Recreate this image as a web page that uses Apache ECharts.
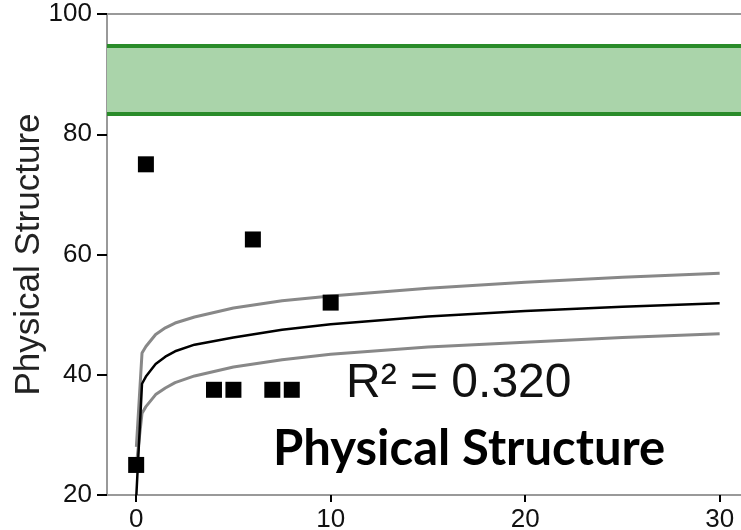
<!DOCTYPE html>
<html>
<head>
<meta charset="utf-8">
<script src="https://cdn.jsdelivr.net/npm/echarts@6/dist/echarts.min.js"></script>
<style>
  html, body { margin: 0; padding: 0; background: #fff; }
  #chart { width: 741px; height: 530px; }
</style>
</head>
<body>
<div id="chart"></div>
<script>
// observed points
const pointX = [0, 0.5, 4, 5, 6, 7, 8, 10];
const pointY = [25, 75, 37.5, 37.5, 62.5, 37.5, 37.5, 52];

// fitted curve + band
const curveX = [0.01, 0.3, 0.5, 1, 1.5, 2, 3, 5, 7.5, 10, 15, 20, 25, 30];
const fitY   = [20, 38.5, 39.7, 41.8, 43.0, 43.9, 45.0, 46.2, 47.5, 48.4, 49.7, 50.6, 51.3, 51.9];
const upperY = [28, 43.6, 44.7, 46.7, 47.8, 48.6, 49.6, 51.1, 52.3, 53.1, 54.4, 55.4, 56.2, 56.9];
const lowerY = [25, 33.6, 34.7, 36.7, 37.8, 38.7, 39.8, 41.3, 42.5, 43.4, 44.6, 45.4, 46.2, 46.8];

// green reference band
const bandLow = 83.4;
const bandHigh = 94.8;

const xTicks = [0, 10, 20, 30];

const rSquared = "R² = 0.320";
const chartTitle = "Physical Structure";

function pairs(xs, ys) {
  return xs.map((x, i) => [x, ys[i]]);
}

let myChart = echarts.init(document.getElementById("chart"));

let option = {
  animation: false,
  grid: {
    left: 107, top: 14, right: -2, bottom: 35,
    outerBoundsMode: "none",
    containLabel: false,
    show: true,
    borderColor: "#999",
    borderWidth: 2
  },
  xAxis: {
    type: "value",
    min: -1.5,
    max: 31.2,
    splitLine: { show: false },
    axisLine: { show: true, onZero: false, lineStyle: { color: "#999", width: 2 } },
    axisTick: {
      show: true,
      inside: false,
      customValues: xTicks,
      length: 7,
      lineStyle: { color: "#000", width: 2, opacity: 1 }
    },
    axisLabel: {
      customValues: xTicks,
      color: "#111",
      fontFamily: "Liberation Sans",
      fontSize: 26,
      margin: 12
    }
  },
  yAxis: {
    type: "value",
    min: 20,
    max: 100,
    interval: 20,
    name: "Physical Structure",
    nameLocation: "middle",
    nameGap: 60,
    nameMoveOverlap: false,
    nameTextStyle: { color: "#222", fontFamily: "Liberation Sans", fontSize: 35 },
    splitLine: { show: false },
    axisLine: { show: true, onZero: false, lineStyle: { color: "#999", width: 2 } },
    axisTick: {
      show: true,
      inside: false,
      length: 10,
      lineStyle: { color: "#000", width: 2, opacity: 1 }
    },
    axisLabel: {
      color: "#111",
      fontFamily: "Liberation Sans",
      fontSize: 26,
      margin: 15
    }
  },
  series: [
    {
      // band
      type: "line",
      data: [],
      markArea: {
        silent: true,
        itemStyle: { color: "#aad4aa", opacity: 1 },
        data: [[{ yAxis: bandLow }, { yAxis: bandHigh }]]
      },
      markLine: {
        silent: true,
        symbol: "none",
        label: { show: false },
        lineStyle: { color: "#2a8c2a", width: 4, type: "solid" },
        data: [{ yAxis: bandLow }, { yAxis: bandHigh }]
      }
    },
    {
      type: "line",
      data: pairs(curveX, upperY),
      showSymbol: false,
      lineStyle: { color: "#888", width: 3 },
      z: 3
    },
    {
      type: "line",
      data: pairs(curveX, lowerY),
      showSymbol: false,
      lineStyle: { color: "#888", width: 3 },
      z: 3
    },
    {
      type: "line",
      data: pairs(curveX, fitY),
      showSymbol: false,
      lineStyle: { color: "#000", width: 2.5 },
      z: 4
    },
    {
      type: "scatter",
      data: pairs(pointX, pointY),
      symbol: "rect",
      symbolSize: 16,
      itemStyle: { color: "#000", opacity: 1 },
      z: 5
    }
  ],
  graphic: [
    {
      type: "text",
      left: 346,
      top: 360,
      style: {
        text: rSquared,
        font: "48px 'Liberation Sans'",
        fill: "#111"
      },
      z: 10
    },
    {
      type: "text",
      left: 273,
      top: 425,
      style: {
        text: chartTitle,
        font: "bold 49px Lato",
        fill: "#000"
      },
      z: 10
    }
  ]
};

myChart.setOption(option);
</script>
</body>
</html>
